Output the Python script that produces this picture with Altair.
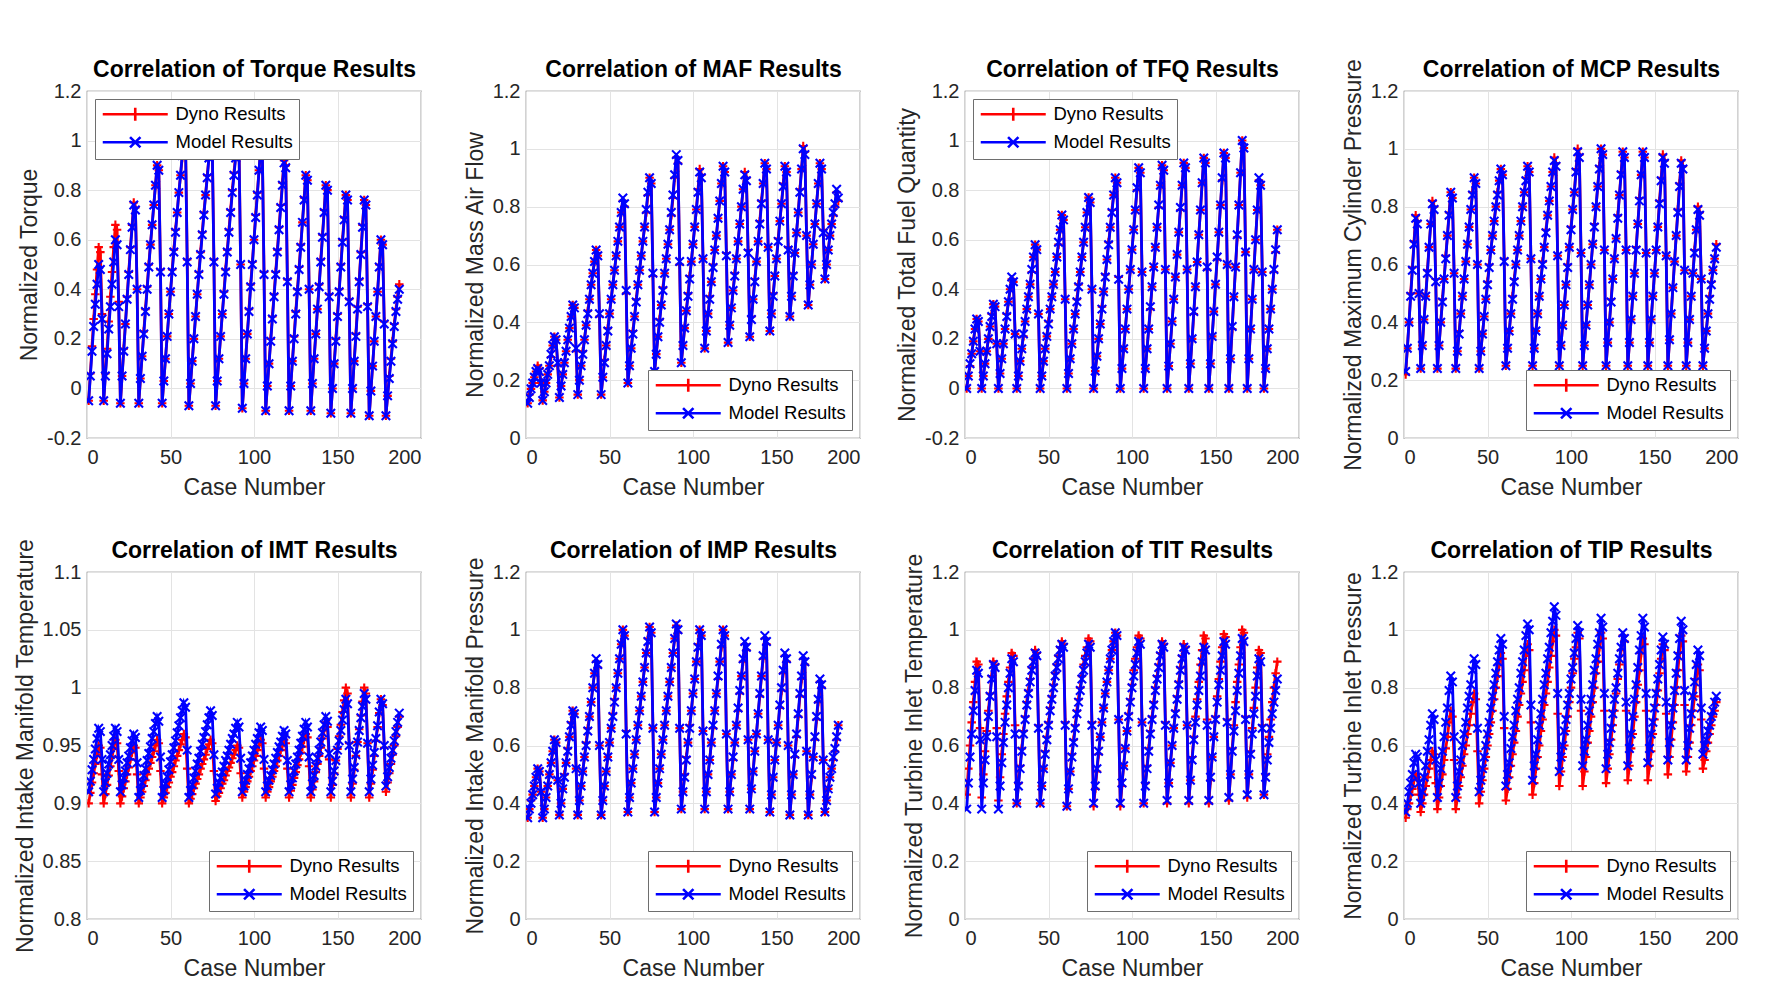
import altair as alt
import pandas as pd

SERIES = ["Dyno Results", "Model Results"]
X_TICKS = [0, 50, 100, 150, 200]
Y_TICKS_A = [-0.2, 0, 0.2, 0.4, 0.6, 0.8, 1, 1.2]
Y_TICKS_B = [0, 0.2, 0.4, 0.6, 0.8, 1, 1.2]
Y_TICKS_IMT = [0.8, 0.85, 0.9, 0.95, 1, 1.05, 1.1]

TORQUE_DYNO = [
    -0.05, 0.06, 0.17, 0.28, 0.38, 0.48, 0.57, 0.55, 0.30,
    -0.05, 0.06, 0.16, 0.27, 0.37, 0.47, 0.57, 0.66, 0.64, 0.35,
    -0.06, 0.05, 0.16, 0.26, 0.37, 0.47, 0.57, 0.66, 0.75, 0.73, 0.40,
    -0.06, 0.04, 0.13, 0.23, 0.32, 0.41, 0.50, 0.58, 0.66, 0.74, 0.82, 0.90, 0.88, 0.48,
    -0.06, 0.03, 0.12, 0.21, 0.30, 0.39, 0.48, 0.56, 0.64, 0.71, 0.79, 0.86, 0.93, 1.00, 0.98, 0.52,
    -0.07, 0.02, 0.11, 0.20, 0.29, 0.38, 0.47, 0.55, 0.63, 0.71, 0.78, 0.86, 0.93, 1.00, 0.98, 0.52,
    -0.07, 0.03, 0.12, 0.21, 0.30, 0.39, 0.48, 0.56, 0.64, 0.72, 0.80, 0.87, 0.94, 1.01, 0.99, 0.50,
    -0.08, 0.02, 0.12, 0.22, 0.32, 0.42, 0.51, 0.60, 0.70, 0.79, 0.88, 0.97, 0.95, 0.47,
    -0.09, 0.01, 0.10, 0.20, 0.29, 0.38, 0.47, 0.56, 0.65, 0.74, 0.83, 0.92, 0.90, 0.44,
    -0.09, 0.01, 0.11, 0.21, 0.31, 0.40, 0.49, 0.58, 0.67, 0.77, 0.86, 0.84, 0.40,
    -0.09, 0.02, 0.12, 0.22, 0.32, 0.42, 0.52, 0.62, 0.72, 0.82, 0.80, 0.38,
    -0.10, 0.00, 0.10, 0.20, 0.30, 0.40, 0.50, 0.60, 0.69, 0.78, 0.76, 0.36,
    -0.10, 0.00, 0.11, 0.22, 0.33, 0.44, 0.55, 0.66, 0.76, 0.74, 0.34,
    -0.11, -0.01, 0.09, 0.19, 0.29, 0.39, 0.50, 0.60, 0.58, 0.27,
    -0.11, -0.03, 0.05, 0.12, 0.19, 0.26, 0.32, 0.37, 0.42,
]
TORQUE_MODEL = [
    -0.05, 0.05, 0.15, 0.25, 0.34, 0.42, 0.50, 0.48, 0.28,
    -0.05, 0.05, 0.14, 0.24, 0.33, 0.42, 0.51, 0.60, 0.58, 0.33,
    -0.06, 0.05, 0.15, 0.26, 0.36, 0.46, 0.56, 0.65, 0.74, 0.72, 0.40,
    -0.06, 0.04, 0.13, 0.22, 0.31, 0.40, 0.49, 0.58, 0.66, 0.74, 0.82, 0.90, 0.88, 0.47,
    -0.06, 0.03, 0.12, 0.21, 0.30, 0.39, 0.47, 0.55, 0.63, 0.71, 0.79, 0.86, 0.94, 1.01, 0.99, 0.51,
    -0.07, 0.02, 0.11, 0.20, 0.29, 0.38, 0.46, 0.54, 0.62, 0.70, 0.78, 0.85, 0.93, 1.00, 0.98, 0.51,
    -0.07, 0.03, 0.12, 0.21, 0.30, 0.38, 0.47, 0.55, 0.63, 0.71, 0.79, 0.86, 0.93, 1.00, 0.98, 0.50,
    -0.08, 0.02, 0.12, 0.22, 0.31, 0.41, 0.50, 0.60, 0.69, 0.78, 0.88, 0.97, 0.95, 0.46,
    -0.09, 0.01, 0.10, 0.19, 0.28, 0.37, 0.46, 0.55, 0.64, 0.73, 0.82, 0.91, 0.89, 0.43,
    -0.09, 0.01, 0.11, 0.20, 0.30, 0.39, 0.48, 0.57, 0.67, 0.76, 0.86, 0.84, 0.40,
    -0.09, 0.02, 0.12, 0.22, 0.32, 0.41, 0.51, 0.61, 0.71, 0.82, 0.80, 0.37,
    -0.10, 0.00, 0.10, 0.19, 0.29, 0.39, 0.49, 0.59, 0.68, 0.78, 0.76, 0.35,
    -0.10, 0.00, 0.11, 0.21, 0.32, 0.43, 0.54, 0.65, 0.76, 0.74, 0.33,
    -0.11, -0.01, 0.09, 0.19, 0.29, 0.39, 0.49, 0.60, 0.58, 0.26,
    -0.11, -0.03, 0.04, 0.11, 0.18, 0.25, 0.31, 0.36, 0.40,
]

MAF_DYNO = [
    0.12, 0.15, 0.17, 0.19, 0.21, 0.23, 0.25, 0.24, 0.19,
    0.13, 0.16, 0.19, 0.22, 0.25, 0.28, 0.32, 0.35, 0.34, 0.25,
    0.14, 0.18, 0.22, 0.26, 0.30, 0.34, 0.38, 0.42, 0.46, 0.45, 0.30,
    0.15, 0.20, 0.25, 0.30, 0.34, 0.39, 0.44, 0.48, 0.53, 0.57, 0.61, 0.65, 0.63, 0.42,
    0.15, 0.21, 0.27, 0.32, 0.38, 0.43, 0.48, 0.53, 0.58, 0.63, 0.68, 0.73, 0.78, 0.82, 0.80, 0.50,
    0.19, 0.25, 0.31, 0.37, 0.42, 0.48, 0.53, 0.58, 0.63, 0.68, 0.73, 0.78, 0.84, 0.90, 0.88, 0.56,
    0.23, 0.29, 0.35, 0.41, 0.46, 0.52, 0.57, 0.62, 0.67, 0.72, 0.77, 0.83, 0.90, 0.97, 0.95, 0.60,
    0.26, 0.32, 0.38, 0.44, 0.50, 0.56, 0.61, 0.67, 0.73, 0.79, 0.86, 0.93, 0.91, 0.62,
    0.31, 0.37, 0.43, 0.49, 0.54, 0.60, 0.65, 0.70, 0.76, 0.82, 0.88, 0.94, 0.92, 0.64,
    0.33, 0.39, 0.45, 0.51, 0.57, 0.62, 0.68, 0.74, 0.80, 0.86, 0.92, 0.90, 0.65,
    0.35, 0.42, 0.48, 0.55, 0.61, 0.68, 0.75, 0.82, 0.88, 0.95, 0.93, 0.66,
    0.37, 0.43, 0.50, 0.56, 0.62, 0.69, 0.75, 0.81, 0.88, 0.94, 0.92, 0.66,
    0.42, 0.49, 0.57, 0.64, 0.71, 0.78, 0.86, 0.93, 1.01, 0.99, 0.70,
    0.46, 0.53, 0.60, 0.67, 0.74, 0.81, 0.88, 0.95, 0.93, 0.72,
    0.55, 0.60, 0.65, 0.70, 0.74, 0.77, 0.80, 0.85, 0.82,
]
MAF_MODEL = [
    0.12, 0.14, 0.17, 0.19, 0.21, 0.23, 0.24, 0.23, 0.19,
    0.13, 0.16, 0.19, 0.22, 0.25, 0.29, 0.32, 0.35, 0.34, 0.26,
    0.14, 0.18, 0.22, 0.26, 0.30, 0.34, 0.38, 0.42, 0.46, 0.45, 0.31,
    0.15, 0.20, 0.25, 0.29, 0.34, 0.39, 0.43, 0.48, 0.53, 0.57, 0.61, 0.65, 0.63, 0.43,
    0.15, 0.21, 0.26, 0.32, 0.37, 0.43, 0.48, 0.53, 0.58, 0.63, 0.68, 0.73, 0.78, 0.83, 0.81, 0.51,
    0.19, 0.25, 0.31, 0.36, 0.42, 0.47, 0.53, 0.58, 0.63, 0.68, 0.73, 0.79, 0.85, 0.90, 0.88, 0.57,
    0.23, 0.29, 0.35, 0.40, 0.46, 0.51, 0.57, 0.62, 0.67, 0.72, 0.78, 0.84, 0.91, 0.98, 0.96, 0.61,
    0.26, 0.32, 0.38, 0.44, 0.49, 0.55, 0.61, 0.67, 0.73, 0.79, 0.85, 0.92, 0.90, 0.62,
    0.31, 0.37, 0.43, 0.48, 0.54, 0.59, 0.65, 0.70, 0.76, 0.82, 0.88, 0.94, 0.92, 0.63,
    0.33, 0.39, 0.45, 0.51, 0.56, 0.62, 0.68, 0.74, 0.80, 0.86, 0.91, 0.89, 0.64,
    0.35, 0.41, 0.48, 0.54, 0.61, 0.68, 0.74, 0.81, 0.88, 0.95, 0.93, 0.66,
    0.37, 0.43, 0.49, 0.56, 0.62, 0.68, 0.75, 0.81, 0.87, 0.94, 0.92, 0.65,
    0.42, 0.49, 0.56, 0.64, 0.71, 0.78, 0.85, 0.93, 1.00, 0.98, 0.70,
    0.46, 0.53, 0.60, 0.67, 0.74, 0.81, 0.88, 0.95, 0.93, 0.71,
    0.55, 0.60, 0.65, 0.70, 0.74, 0.78, 0.81, 0.86, 0.83,
]

TFQ_DYNO = [
    0.00, 0.05, 0.09, 0.14, 0.19, 0.24, 0.28, 0.27, 0.15,
    0.00, 0.05, 0.10, 0.15, 0.20, 0.25, 0.30, 0.34, 0.33, 0.18,
    0.00, 0.06, 0.12, 0.18, 0.24, 0.30, 0.35, 0.40, 0.44, 0.43, 0.22,
    0.00, 0.05, 0.11, 0.16, 0.21, 0.27, 0.32, 0.37, 0.42, 0.47, 0.53, 0.58, 0.56, 0.30,
    0.00, 0.05, 0.11, 0.16, 0.21, 0.27, 0.32, 0.37, 0.42, 0.47, 0.53, 0.58, 0.64, 0.70, 0.68, 0.36,
    0.00, 0.06, 0.12, 0.18, 0.24, 0.30, 0.36, 0.42, 0.47, 0.53, 0.59, 0.65, 0.71, 0.77, 0.75, 0.40,
    0.00, 0.07, 0.13, 0.20, 0.26, 0.33, 0.39, 0.46, 0.52, 0.59, 0.65, 0.72, 0.78, 0.85, 0.83, 0.45,
    0.00, 0.08, 0.16, 0.24, 0.32, 0.40, 0.48, 0.56, 0.64, 0.72, 0.80, 0.89, 0.87, 0.47,
    0.00, 0.08, 0.16, 0.24, 0.32, 0.41, 0.49, 0.57, 0.65, 0.73, 0.82, 0.90, 0.88, 0.48,
    0.00, 0.09, 0.18, 0.27, 0.36, 0.45, 0.54, 0.63, 0.72, 0.82, 0.91, 0.89, 0.48,
    0.00, 0.10, 0.20, 0.30, 0.41, 0.51, 0.62, 0.72, 0.83, 0.93, 0.91, 0.48,
    0.00, 0.10, 0.21, 0.31, 0.42, 0.52, 0.63, 0.74, 0.84, 0.95, 0.93, 0.50,
    0.00, 0.12, 0.24, 0.37, 0.49, 0.61, 0.74, 0.87, 1.00, 0.97, 0.55,
    0.00, 0.12, 0.24, 0.36, 0.48, 0.60, 0.72, 0.84, 0.82, 0.47,
    0.00, 0.08, 0.16, 0.24, 0.32, 0.40, 0.47, 0.55, 0.64,
]
TFQ_MODEL = [
    0.00, 0.05, 0.10, 0.14, 0.19, 0.24, 0.28, 0.27, 0.15,
    0.00, 0.05, 0.10, 0.15, 0.20, 0.25, 0.29, 0.34, 0.33, 0.18,
    0.00, 0.06, 0.12, 0.18, 0.24, 0.29, 0.35, 0.40, 0.45, 0.43, 0.22,
    0.00, 0.05, 0.11, 0.16, 0.22, 0.27, 0.32, 0.37, 0.42, 0.48, 0.53, 0.58, 0.56, 0.30,
    0.00, 0.05, 0.11, 0.16, 0.21, 0.26, 0.32, 0.37, 0.42, 0.47, 0.53, 0.59, 0.64, 0.70, 0.68, 0.36,
    0.00, 0.06, 0.12, 0.18, 0.24, 0.30, 0.35, 0.41, 0.47, 0.53, 0.59, 0.65, 0.71, 0.77, 0.75, 0.40,
    0.00, 0.07, 0.13, 0.20, 0.26, 0.32, 0.39, 0.45, 0.52, 0.58, 0.65, 0.71, 0.78, 0.85, 0.83, 0.44,
    0.00, 0.08, 0.16, 0.24, 0.32, 0.40, 0.48, 0.56, 0.64, 0.72, 0.81, 0.89, 0.87, 0.47,
    0.00, 0.08, 0.16, 0.24, 0.33, 0.41, 0.49, 0.57, 0.65, 0.74, 0.82, 0.90, 0.88, 0.48,
    0.00, 0.09, 0.18, 0.27, 0.36, 0.45, 0.54, 0.63, 0.73, 0.82, 0.91, 0.89, 0.48,
    0.00, 0.10, 0.20, 0.31, 0.41, 0.51, 0.62, 0.72, 0.83, 0.93, 0.91, 0.49,
    0.00, 0.10, 0.21, 0.31, 0.42, 0.53, 0.63, 0.74, 0.85, 0.95, 0.93, 0.50,
    0.00, 0.12, 0.25, 0.37, 0.49, 0.62, 0.74, 0.87, 1.00, 0.97, 0.55,
    0.00, 0.12, 0.24, 0.36, 0.48, 0.60, 0.72, 0.85, 0.82, 0.47,
    0.00, 0.08, 0.16, 0.24, 0.32, 0.40, 0.48, 0.56, 0.64,
]

MCP_DYNO = [
    0.22, 0.31, 0.40, 0.50, 0.59, 0.68, 0.77, 0.75, 0.50,
    0.24, 0.32, 0.41, 0.49, 0.58, 0.66, 0.74, 0.82, 0.80, 0.55,
    0.24, 0.32, 0.40, 0.48, 0.55, 0.63, 0.70, 0.78, 0.85, 0.83, 0.57,
    0.24, 0.30, 0.37, 0.43, 0.49, 0.55, 0.61, 0.67, 0.73, 0.79, 0.85, 0.90, 0.88, 0.60,
    0.24, 0.30, 0.36, 0.42, 0.48, 0.54, 0.60, 0.65, 0.70, 0.75, 0.80, 0.85, 0.89, 0.93, 0.91, 0.62,
    0.25, 0.31, 0.37, 0.43, 0.49, 0.55, 0.60, 0.65, 0.70, 0.75, 0.80, 0.85, 0.90, 0.94, 0.92, 0.62,
    0.25, 0.31, 0.37, 0.43, 0.49, 0.55, 0.61, 0.66, 0.72, 0.77, 0.82, 0.87, 0.92, 0.97, 0.95, 0.63,
    0.25, 0.32, 0.39, 0.46, 0.53, 0.60, 0.66, 0.73, 0.79, 0.85, 0.93, 1.00, 0.98, 0.64,
    0.25, 0.32, 0.39, 0.46, 0.53, 0.60, 0.67, 0.74, 0.80, 0.87, 0.94, 1.00, 0.98, 0.65,
    0.25, 0.33, 0.40, 0.48, 0.55, 0.62, 0.69, 0.77, 0.84, 0.92, 0.99, 0.97, 0.65,
    0.25, 0.33, 0.41, 0.49, 0.57, 0.66, 0.74, 0.83, 0.91, 0.99, 0.97, 0.64,
    0.25, 0.33, 0.41, 0.49, 0.57, 0.65, 0.73, 0.82, 0.90, 0.98, 0.96, 0.63,
    0.25, 0.34, 0.43, 0.52, 0.61, 0.70, 0.79, 0.88, 0.96, 0.94, 0.58,
    0.25, 0.33, 0.41, 0.49, 0.57, 0.65, 0.72, 0.80, 0.78, 0.55,
    0.25, 0.31, 0.37, 0.43, 0.49, 0.54, 0.58, 0.62, 0.67,
]
MCP_MODEL = [
    0.23, 0.31, 0.40, 0.49, 0.58, 0.67, 0.76, 0.74, 0.50,
    0.24, 0.32, 0.41, 0.49, 0.57, 0.66, 0.74, 0.81, 0.79, 0.54,
    0.24, 0.32, 0.40, 0.47, 0.55, 0.62, 0.70, 0.77, 0.85, 0.83, 0.57,
    0.24, 0.30, 0.36, 0.43, 0.49, 0.55, 0.61, 0.67, 0.73, 0.79, 0.84, 0.90, 0.88, 0.60,
    0.24, 0.30, 0.36, 0.42, 0.48, 0.53, 0.59, 0.65, 0.70, 0.75, 0.80, 0.84, 0.89, 0.93, 0.91, 0.61,
    0.25, 0.31, 0.37, 0.43, 0.48, 0.54, 0.60, 0.65, 0.70, 0.75, 0.80, 0.85, 0.89, 0.94, 0.92, 0.62,
    0.25, 0.31, 0.37, 0.43, 0.49, 0.55, 0.60, 0.66, 0.71, 0.77, 0.82, 0.87, 0.92, 0.96, 0.94, 0.63,
    0.25, 0.32, 0.39, 0.46, 0.53, 0.59, 0.66, 0.72, 0.79, 0.85, 0.92, 0.99, 0.97, 0.64,
    0.25, 0.32, 0.39, 0.46, 0.53, 0.60, 0.67, 0.73, 0.80, 0.87, 0.93, 1.00, 0.98, 0.65,
    0.25, 0.33, 0.40, 0.47, 0.55, 0.62, 0.69, 0.76, 0.84, 0.91, 0.99, 0.97, 0.65,
    0.25, 0.33, 0.41, 0.49, 0.57, 0.65, 0.74, 0.82, 0.91, 0.99, 0.97, 0.64,
    0.25, 0.33, 0.41, 0.49, 0.57, 0.65, 0.73, 0.81, 0.89, 0.97, 0.95, 0.63,
    0.25, 0.34, 0.43, 0.52, 0.61, 0.70, 0.78, 0.87, 0.95, 0.93, 0.58,
    0.25, 0.33, 0.41, 0.49, 0.57, 0.64, 0.72, 0.79, 0.77, 0.55,
    0.25, 0.31, 0.37, 0.43, 0.48, 0.53, 0.58, 0.62, 0.66,
]

IMT_DYNO = [
    0.900, 0.909, 0.918, 0.926, 0.934, 0.942, 0.950, 0.948, 0.925,
    0.900, 0.908, 0.916, 0.924, 0.932, 0.940, 0.948, 0.955, 0.952, 0.928,
    0.900, 0.906, 0.913, 0.919, 0.925, 0.931, 0.938, 0.944, 0.950, 0.948, 0.925,
    0.900, 0.905, 0.910, 0.915, 0.920, 0.925, 0.930, 0.935, 0.940, 0.945, 0.950, 0.955, 0.952, 0.928,
    0.900, 0.905, 0.909, 0.914, 0.918, 0.923, 0.927, 0.932, 0.937, 0.941, 0.946, 0.951, 0.955, 0.960, 0.957, 0.930,
    0.900, 0.904, 0.908, 0.913, 0.917, 0.921, 0.925, 0.930, 0.934, 0.938, 0.942, 0.947, 0.951, 0.955, 0.952, 0.928,
    0.902, 0.906, 0.909, 0.913, 0.917, 0.920, 0.924, 0.928, 0.931, 0.935, 0.939, 0.942, 0.946, 0.950, 0.948, 0.926,
    0.905, 0.910, 0.914, 0.919, 0.923, 0.928, 0.932, 0.937, 0.941, 0.946, 0.950, 0.955, 0.952, 0.930,
    0.905, 0.910, 0.914, 0.919, 0.923, 0.928, 0.932, 0.937, 0.941, 0.946, 0.950, 0.955, 0.952, 0.930,
    0.905, 0.911, 0.916, 0.922, 0.927, 0.933, 0.938, 0.944, 0.949, 0.955, 0.960, 0.957, 0.932,
    0.905, 0.912, 0.919, 0.927, 0.934, 0.941, 0.948, 0.956, 0.963, 0.970, 0.966, 0.938,
    0.905, 0.916, 0.926, 0.937, 0.947, 0.958, 0.968, 0.979, 0.989, 1.000, 0.995, 0.952,
    0.905, 0.917, 0.929, 0.941, 0.953, 0.964, 0.976, 0.988, 1.000, 0.995, 0.952,
    0.905, 0.917, 0.929, 0.941, 0.954, 0.966, 0.978, 0.990, 0.985, 0.948,
    0.910, 0.918, 0.926, 0.934, 0.942, 0.950, 0.958, 0.966, 0.975,
]
IMT_MODEL = [
    0.910, 0.919, 0.929, 0.938, 0.947, 0.956, 0.965, 0.962, 0.938,
    0.910, 0.918, 0.926, 0.934, 0.942, 0.950, 0.958, 0.965, 0.962, 0.938,
    0.910, 0.916, 0.922, 0.928, 0.935, 0.941, 0.948, 0.954, 0.960, 0.957, 0.935,
    0.905, 0.911, 0.918, 0.924, 0.930, 0.937, 0.943, 0.949, 0.956, 0.962, 0.969, 0.975, 0.971, 0.940,
    0.905, 0.911, 0.917, 0.923, 0.929, 0.936, 0.942, 0.948, 0.954, 0.961, 0.967, 0.974, 0.980, 0.987, 0.983, 0.946,
    0.905, 0.911, 0.916, 0.922, 0.928, 0.934, 0.939, 0.945, 0.951, 0.957, 0.962, 0.968, 0.974, 0.980, 0.976, 0.942,
    0.908, 0.913, 0.918, 0.922, 0.927, 0.932, 0.937, 0.941, 0.946, 0.951, 0.956, 0.960, 0.965, 0.970, 0.966, 0.939,
    0.910, 0.915, 0.920, 0.925, 0.930, 0.935, 0.941, 0.946, 0.951, 0.956, 0.961, 0.966, 0.963, 0.938,
    0.910, 0.915, 0.920, 0.924, 0.929, 0.934, 0.939, 0.944, 0.949, 0.953, 0.958, 0.963, 0.960, 0.937,
    0.910, 0.916, 0.922, 0.928, 0.934, 0.940, 0.946, 0.952, 0.958, 0.964, 0.970, 0.966, 0.940,
    0.910, 0.917, 0.924, 0.932, 0.939, 0.946, 0.953, 0.961, 0.968, 0.975, 0.971, 0.943,
    0.910, 0.919, 0.928, 0.937, 0.946, 0.954, 0.963, 0.972, 0.981, 0.990, 0.986, 0.950,
    0.910, 0.921, 0.931, 0.942, 0.953, 0.963, 0.974, 0.984, 0.995, 0.990, 0.952,
    0.910, 0.921, 0.933, 0.944, 0.956, 0.967, 0.979, 0.990, 0.986, 0.950,
    0.915, 0.923, 0.931, 0.939, 0.946, 0.954, 0.962, 0.970, 0.978,
]

IMP_DYNO = [
    0.35, 0.38, 0.41, 0.43, 0.46, 0.49, 0.52, 0.51, 0.44,
    0.35, 0.38, 0.42, 0.46, 0.50, 0.54, 0.58, 0.62, 0.61, 0.48,
    0.36, 0.40, 0.45, 0.50, 0.54, 0.59, 0.63, 0.68, 0.72, 0.71, 0.52,
    0.36, 0.41, 0.46, 0.51, 0.56, 0.61, 0.66, 0.70, 0.75, 0.80, 0.85, 0.89, 0.87, 0.60,
    0.36, 0.41, 0.46, 0.51, 0.56, 0.61, 0.66, 0.71, 0.76, 0.80, 0.85, 0.90, 0.95, 1.00, 0.98, 0.65,
    0.37, 0.42, 0.47, 0.52, 0.57, 0.62, 0.67, 0.72, 0.77, 0.82, 0.87, 0.92, 0.97, 1.01, 0.99, 0.66,
    0.37, 0.42, 0.47, 0.52, 0.57, 0.62, 0.67, 0.72, 0.77, 0.82, 0.87, 0.92, 0.97, 1.015, 0.99, 0.66,
    0.38, 0.44, 0.50, 0.56, 0.61, 0.67, 0.72, 0.78, 0.83, 0.89, 0.95, 1.00, 0.98, 0.65,
    0.38, 0.44, 0.50, 0.55, 0.61, 0.66, 0.72, 0.78, 0.83, 0.89, 0.94, 1.00, 0.98, 0.64,
    0.38, 0.44, 0.50, 0.55, 0.61, 0.67, 0.72, 0.78, 0.84, 0.89, 0.95, 0.93, 0.62,
    0.38, 0.45, 0.51, 0.58, 0.64, 0.71, 0.77, 0.84, 0.90, 0.97, 0.95, 0.62,
    0.37, 0.43, 0.49, 0.55, 0.61, 0.67, 0.73, 0.79, 0.85, 0.91, 0.89, 0.60,
    0.36, 0.43, 0.50, 0.56, 0.63, 0.70, 0.77, 0.83, 0.90, 0.88, 0.58,
    0.36, 0.43, 0.49, 0.56, 0.62, 0.69, 0.75, 0.82, 0.80, 0.55,
    0.37, 0.41, 0.45, 0.49, 0.52, 0.55, 0.58, 0.62, 0.67,
]
IMP_MODEL = [
    0.35, 0.38, 0.40, 0.43, 0.46, 0.49, 0.52, 0.51, 0.44,
    0.35, 0.38, 0.42, 0.46, 0.50, 0.54, 0.58, 0.62, 0.61, 0.48,
    0.36, 0.40, 0.45, 0.49, 0.54, 0.58, 0.63, 0.67, 0.72, 0.71, 0.52,
    0.36, 0.41, 0.46, 0.51, 0.56, 0.60, 0.65, 0.70, 0.75, 0.80, 0.85, 0.90, 0.88, 0.60,
    0.36, 0.41, 0.46, 0.51, 0.56, 0.61, 0.66, 0.70, 0.75, 0.80, 0.85, 0.90, 0.95, 1.00, 0.98, 0.64,
    0.37, 0.42, 0.47, 0.52, 0.57, 0.62, 0.67, 0.72, 0.77, 0.82, 0.87, 0.92, 0.96, 1.01, 0.99, 0.66,
    0.37, 0.42, 0.47, 0.52, 0.57, 0.62, 0.67, 0.72, 0.77, 0.82, 0.87, 0.92, 0.97, 1.02, 1.00, 0.66,
    0.38, 0.44, 0.49, 0.55, 0.61, 0.66, 0.72, 0.78, 0.83, 0.89, 0.94, 1.00, 0.98, 0.65,
    0.38, 0.44, 0.50, 0.55, 0.61, 0.67, 0.72, 0.78, 0.84, 0.89, 0.95, 1.00, 0.98, 0.64,
    0.38, 0.44, 0.50, 0.56, 0.61, 0.67, 0.73, 0.79, 0.84, 0.90, 0.96, 0.94, 0.62,
    0.38, 0.45, 0.51, 0.58, 0.64, 0.71, 0.78, 0.84, 0.91, 0.98, 0.96, 0.62,
    0.37, 0.43, 0.49, 0.55, 0.61, 0.67, 0.74, 0.80, 0.86, 0.92, 0.90, 0.60,
    0.36, 0.43, 0.50, 0.57, 0.64, 0.71, 0.78, 0.84, 0.91, 0.89, 0.58,
    0.36, 0.43, 0.50, 0.56, 0.63, 0.70, 0.76, 0.83, 0.81, 0.55,
    0.37, 0.41, 0.45, 0.49, 0.52, 0.56, 0.59, 0.63, 0.67,
]

TIT_DYNO = [
    0.43, 0.52, 0.60, 0.68, 0.75, 0.82, 0.89, 0.88, 0.66,
    0.42, 0.50, 0.58, 0.65, 0.72, 0.78, 0.84, 0.89, 0.88, 0.66,
    0.41, 0.49, 0.57, 0.64, 0.71, 0.77, 0.82, 0.87, 0.92, 0.91, 0.67,
    0.40, 0.47, 0.53, 0.59, 0.65, 0.70, 0.75, 0.79, 0.83, 0.87, 0.90, 0.93, 0.92, 0.67,
    0.40, 0.46, 0.52, 0.58, 0.63, 0.68, 0.73, 0.77, 0.81, 0.85, 0.88, 0.91, 0.94, 0.96, 0.95, 0.68,
    0.39, 0.45, 0.51, 0.57, 0.62, 0.67, 0.72, 0.76, 0.80, 0.84, 0.88, 0.91, 0.94, 0.97, 0.96, 0.68,
    0.39, 0.45, 0.51, 0.57, 0.63, 0.68, 0.73, 0.78, 0.82, 0.86, 0.90, 0.93, 0.96, 0.99, 0.98, 0.69,
    0.39, 0.46, 0.53, 0.59, 0.65, 0.71, 0.76, 0.81, 0.86, 0.90, 0.94, 0.98, 0.97, 0.68,
    0.40, 0.47, 0.53, 0.59, 0.65, 0.70, 0.75, 0.80, 0.84, 0.88, 0.92, 0.96, 0.95, 0.68,
    0.40, 0.47, 0.54, 0.60, 0.66, 0.72, 0.77, 0.82, 0.87, 0.91, 0.95, 0.94, 0.67,
    0.40, 0.48, 0.56, 0.63, 0.70, 0.76, 0.82, 0.88, 0.93, 0.98, 0.97, 0.69,
    0.40, 0.48, 0.56, 0.63, 0.70, 0.77, 0.83, 0.89, 0.94, 0.985, 0.975, 0.69,
    0.41, 0.50, 0.59, 0.67, 0.75, 0.82, 0.88, 0.94, 1.00, 0.99, 0.70,
    0.42, 0.50, 0.58, 0.66, 0.73, 0.80, 0.87, 0.93, 0.92, 0.67,
    0.43, 0.50, 0.57, 0.63, 0.69, 0.75, 0.80, 0.85, 0.89,
]
TIT_MODEL = [
    0.38, 0.47, 0.56, 0.64, 0.72, 0.79, 0.86, 0.85, 0.62,
    0.38, 0.47, 0.55, 0.63, 0.70, 0.77, 0.83, 0.88, 0.87, 0.63,
    0.38, 0.46, 0.54, 0.61, 0.68, 0.74, 0.80, 0.85, 0.90, 0.89, 0.64,
    0.40, 0.46, 0.52, 0.58, 0.64, 0.69, 0.74, 0.78, 0.82, 0.86, 0.89, 0.92, 0.91, 0.66,
    0.40, 0.46, 0.52, 0.57, 0.62, 0.67, 0.72, 0.76, 0.80, 0.84, 0.87, 0.90, 0.93, 0.95, 0.94, 0.67,
    0.39, 0.45, 0.51, 0.56, 0.61, 0.66, 0.71, 0.75, 0.79, 0.83, 0.86, 0.89, 0.92, 0.95, 0.94, 0.67,
    0.40, 0.46, 0.52, 0.58, 0.63, 0.68, 0.73, 0.78, 0.82, 0.86, 0.90, 0.93, 0.96, 0.99, 0.98, 0.69,
    0.40, 0.47, 0.53, 0.59, 0.65, 0.70, 0.75, 0.80, 0.84, 0.88, 0.92, 0.96, 0.95, 0.68,
    0.40, 0.46, 0.52, 0.58, 0.64, 0.69, 0.74, 0.79, 0.83, 0.87, 0.91, 0.95, 0.94, 0.67,
    0.41, 0.47, 0.54, 0.60, 0.66, 0.71, 0.76, 0.81, 0.86, 0.90, 0.94, 0.93, 0.67,
    0.41, 0.48, 0.55, 0.62, 0.68, 0.74, 0.79, 0.84, 0.89, 0.94, 0.93, 0.67,
    0.41, 0.49, 0.56, 0.63, 0.69, 0.75, 0.81, 0.86, 0.91, 0.96, 0.95, 0.68,
    0.42, 0.50, 0.58, 0.65, 0.72, 0.79, 0.85, 0.91, 0.97, 0.96, 0.69,
    0.43, 0.50, 0.57, 0.64, 0.71, 0.77, 0.84, 0.90, 0.89, 0.66,
    0.43, 0.49, 0.55, 0.61, 0.66, 0.71, 0.75, 0.79, 0.83,
]

TIP_DYNO = [
    0.35, 0.38, 0.40, 0.43, 0.45, 0.48, 0.50, 0.49, 0.43,
    0.37, 0.40, 0.43, 0.46, 0.49, 0.52, 0.55, 0.58, 0.57, 0.47,
    0.38, 0.42, 0.46, 0.50, 0.55, 0.59, 0.63, 0.68, 0.72, 0.70, 0.55,
    0.38, 0.42, 0.46, 0.49, 0.53, 0.57, 0.60, 0.64, 0.67, 0.71, 0.75, 0.78, 0.76, 0.58,
    0.40, 0.44, 0.48, 0.52, 0.56, 0.60, 0.64, 0.68, 0.72, 0.76, 0.80, 0.84, 0.88, 0.92, 0.90, 0.66,
    0.41, 0.45, 0.49, 0.53, 0.57, 0.61, 0.65, 0.70, 0.74, 0.78, 0.82, 0.86, 0.91, 0.95, 0.93, 0.68,
    0.43, 0.47, 0.52, 0.56, 0.60, 0.65, 0.69, 0.74, 0.78, 0.82, 0.87, 0.91, 0.96, 1.00, 0.98, 0.71,
    0.46, 0.51, 0.56, 0.60, 0.65, 0.70, 0.75, 0.80, 0.85, 0.90, 0.94, 0.99, 0.97, 0.72,
    0.46, 0.51, 0.56, 0.61, 0.65, 0.70, 0.75, 0.80, 0.85, 0.89, 0.94, 0.99, 0.97, 0.72,
    0.47, 0.52, 0.57, 0.62, 0.67, 0.72, 0.78, 0.83, 0.88, 0.93, 0.98, 0.96, 0.72,
    0.48, 0.53, 0.59, 0.64, 0.70, 0.75, 0.81, 0.86, 0.92, 0.97, 0.95, 0.72,
    0.48, 0.53, 0.58, 0.64, 0.69, 0.74, 0.79, 0.85, 0.90, 0.95, 0.93, 0.71,
    0.50, 0.56, 0.62, 0.68, 0.74, 0.80, 0.86, 0.92, 0.98, 0.96, 0.74,
    0.51, 0.56, 0.61, 0.67, 0.72, 0.77, 0.83, 0.88, 0.86, 0.69,
    0.52, 0.55, 0.58, 0.61, 0.64, 0.67, 0.70, 0.72, 0.75,
]
TIP_MODEL = [
    0.37, 0.40, 0.44, 0.47, 0.50, 0.54, 0.57, 0.56, 0.47,
    0.40, 0.44, 0.49, 0.53, 0.58, 0.62, 0.67, 0.71, 0.69, 0.55,
    0.42, 0.47, 0.52, 0.58, 0.63, 0.68, 0.73, 0.79, 0.84, 0.82, 0.63,
    0.42, 0.46, 0.51, 0.55, 0.60, 0.64, 0.68, 0.73, 0.77, 0.81, 0.86, 0.90, 0.88, 0.66,
    0.44, 0.48, 0.52, 0.56, 0.60, 0.64, 0.68, 0.73, 0.77, 0.81, 0.85, 0.89, 0.93, 0.97, 0.95, 0.70,
    0.46, 0.50, 0.54, 0.59, 0.63, 0.67, 0.72, 0.76, 0.80, 0.85, 0.89, 0.93, 0.98, 1.02, 1.00, 0.74,
    0.48, 0.53, 0.57, 0.62, 0.67, 0.71, 0.76, 0.81, 0.85, 0.90, 0.94, 0.99, 1.03, 1.08, 1.05, 0.78,
    0.51, 0.56, 0.60, 0.65, 0.69, 0.74, 0.78, 0.83, 0.87, 0.92, 0.97, 1.015, 0.99, 0.76,
    0.53, 0.58, 0.62, 0.67, 0.72, 0.76, 0.81, 0.86, 0.90, 0.95, 0.99, 1.04, 1.01, 0.78,
    0.52, 0.57, 0.61, 0.66, 0.71, 0.76, 0.80, 0.85, 0.90, 0.94, 0.99, 0.97, 0.75,
    0.53, 0.59, 0.64, 0.70, 0.76, 0.81, 0.87, 0.93, 0.98, 1.04, 1.01, 0.78,
    0.54, 0.59, 0.64, 0.68, 0.73, 0.78, 0.83, 0.88, 0.93, 0.975, 0.95, 0.75,
    0.55, 0.61, 0.67, 0.73, 0.79, 0.85, 0.91, 0.97, 1.03, 1.00, 0.79,
    0.55, 0.60, 0.66, 0.71, 0.77, 0.82, 0.88, 0.93, 0.91, 0.73,
    0.57, 0.60, 0.62, 0.65, 0.67, 0.70, 0.72, 0.75, 0.77,
]

PANELS = [
    ("Correlation of Torque Results", "Normalized Torque", [-0.2, 1.2], Y_TICKS_A, TORQUE_DYNO, TORQUE_MODEL, "top-left"),
    ("Correlation of MAF Results", "Normalized Mass Air Flow", [0, 1.2], Y_TICKS_B, MAF_DYNO, MAF_MODEL, "bottom-right"),
    ("Correlation of TFQ Results", "Normalized Total Fuel Quantity", [-0.2, 1.2], Y_TICKS_A, TFQ_DYNO, TFQ_MODEL, "top-left"),
    ("Correlation of MCP Results", "Normalized Maximum Cylinder Pressure", [0, 1.2], Y_TICKS_B, MCP_DYNO, MCP_MODEL, "bottom-right"),
    ("Correlation of IMT Results", "Normalized Intake Manifold Temperature", [0.8, 1.1], Y_TICKS_IMT, IMT_DYNO, IMT_MODEL, "bottom-right"),
    ("Correlation of IMP Results", "Normalized Intake Manifold Pressure", [0, 1.2], Y_TICKS_B, IMP_DYNO, IMP_MODEL, "bottom-right"),
    ("Correlation of TIT Results", "Normalized Turbine Inlet Temperature", [0, 1.2], Y_TICKS_B, TIT_DYNO, TIT_MODEL, "bottom-right"),
    ("Correlation of TIP Results", "Normalized Turbine Inlet Pressure", [0, 1.2], Y_TICKS_B, TIP_DYNO, TIP_MODEL, "bottom-right"),
]

RED = "#ff0000"
BLUE = "#0000ff"
PLUS = "M-1,0H1M0,-1V1"
CROSS = "M-1,-1L1,1M-1,1L1,-1"
LEG_PLUS = "M-5,0H5M0,-1V1"
LEG_CROSS = "M-5,0H5M-0.8,-0.8L0.8,0.8M-0.8,0.8L0.8,-0.8"
FONT = "Liberation Sans"
W, H = 334, 347


def make_panel(title, ytitle, dom, ticks, dyno, model, orient):
    df = pd.DataFrame({
        "case": list(range(1, len(dyno) + 1)) + list(range(1, len(model) + 1)),
        "value": dyno + model,
        "series": [SERIES[0]] * len(dyno) + [SERIES[1]] * len(model),
    })
    xscale = alt.Scale(domain=[0, 200], nice=False)
    x = alt.X("case:Q", scale=xscale,
              axis=alt.Axis(values=X_TICKS, title="Case Number", orient="bottom"))
    y = alt.Y("value:Q", scale=alt.Scale(domain=dom, nice=False, zero=False),
              axis=alt.Axis(values=ticks, title=ytitle, labelExpr="toString(datum.value)"))
    base = alt.Chart(df)
    layers = []
    for s, col, shp in [(SERIES[0], RED, PLUS), (SERIES[1], BLUE, CROSS)]:
        b = base.transform_filter(alt.datum.series == s)
        layers.append(b.mark_line(color=col, strokeWidth=2.8, clip=True).encode(x=x, y=y))
        layers.append(b.mark_point(shape=shp, filled=False, color=col, size=72,
                                   strokeWidth=2.1, opacity=1, clip=True).encode(x=x, y=y))
    data_layer = alt.layer(*layers)
    leg = alt.Legend(
        title=None, orient=orient, offset=8, fillColor="white", strokeColor="#6e6e6e",
        padding=6, labelFont=FONT, labelFontSize=18.5, labelColor="black",
        symbolSize=169, symbolStrokeWidth=2.6, symbolOffset=25, labelOffset=31, rowPadding=5,
    )
    top_axis = alt.Axis(
        orient="top", labels=False, ticks=False, grid=False, domain=False, title=title,
        titleFont=FONT, titleFontSize=23, titleFontWeight="bold", titleColor="black",
        titlePadding=10, minExtent=0, maxExtent=0,
    )
    legend_layer = (
        base.transform_filter("false")
        .mark_point(filled=False, opacity=1, strokeWidth=2.6)
        .encode(
            x=alt.X("case:Q", scale=xscale, axis=top_axis),
            y=y,
            color=alt.Color("series:N", scale=alt.Scale(domain=SERIES, range=[RED, BLUE]), legend=leg),
            shape=alt.Shape("series:N", scale=alt.Scale(domain=SERIES, range=[LEG_PLUS, LEG_CROSS]), legend=leg),
        )
    )
    return alt.layer(data_layer, legend_layer).resolve_axis(x="independent").properties(width=W, height=H)


panels = [make_panel(*p) for p in PANELS]

chart = alt.ConcatChart(
    concat=panels, columns=4, spacing={"row": 134, "column": 105}, bounds="flush",
    padding={"left": 5, "top": 49, "right": 5, "bottom": 2},
).resolve_scale(color="independent", shape="independent").configure(
    font=FONT, background="white"
).configure_axis(
    labelFont=FONT, labelFontSize=20, labelColor="#262626",
    titleFont=FONT, titleFontSize=23, titleFontWeight="normal", titleColor="#262626",
    grid=True, gridColor="#e3e3e3", gridWidth=1, domain=False, ticks=False, labelPadding=6,
).configure_axisY(titlePadding=5).configure_axisX(titlePadding=9, labelPadding=9).configure_view(
    stroke="#6b6b6b", strokeWidth=1.2
)

chart.save("out.html", embed_options={"renderer": "svg", "actions": False})
